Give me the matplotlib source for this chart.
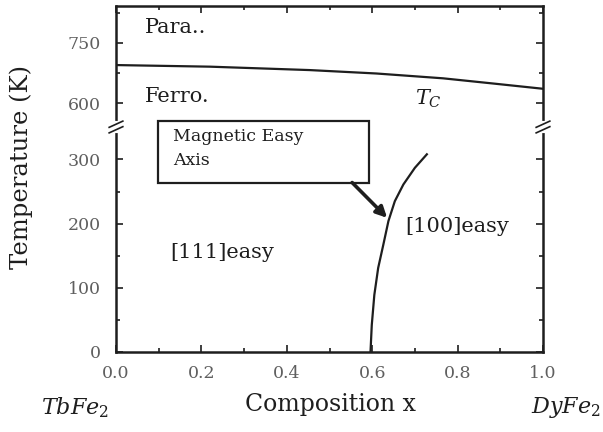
import numpy as np
import matplotlib
matplotlib.use("Agg")
from matplotlib import pyplot as plt
from matplotlib.patches import Rectangle
from matplotlib.ticker import FixedLocator

plt.rcParams["font.family"] = ["DejaVu Serif"]
plt.rcParams["mathtext.fontset"] = "dejavuserif"

# Curie temperature across the Tb(1-x)Dy(x)Fe2 series
tc_x = [0.0, 0.22, 0.454, 0.61, 0.766, 0.884, 1.0]
tc_temp = [695, 691, 682.5, 674, 662, 649, 636]

# spin reorientation boundary between [111] and [100] easy axes
sr_x = [0.596, 0.599, 0.605, 0.614, 0.626, 0.638, 0.653, 0.673, 0.700, 0.728]
sr_temp = [0, 42, 89, 131, 167, 204, 235, 261, 287, 308]

y_major = [0, 100, 200, 300, 600, 750]
y_minor = [50, 150, 250, 675, 825]
x_major = [0.0, 0.2, 0.4, 0.6, 0.8, 1.0]

# broken temperature axis: 0-350 K below the break, 540-842 K above it
seg_t = [0, 350, 540, 842]
seg_y = [0, 224, 224.01, 345]


def fwd(t):
    return np.interp(t, seg_t, seg_y)


def inv(y):
    return np.interp(y, seg_y, seg_t)


ink = "#1e1e1e"
tick_col = "#5f5f5f"

fig = plt.figure(figsize=(6.03, 4.32), dpi=100)
ax = fig.add_axes([116 / 603, 80 / 432, 427 / 603, 346 / 432])
ax.set_yscale("function", functions=(fwd, inv))
ax.set_xlim(0, 1)
ax.set_ylim(0, 842)

ax.plot(tc_x, tc_temp, color=ink, lw=1.6)
ax.plot(sr_x, sr_temp, color=ink, lw=1.6)

ax.yaxis.set_major_locator(FixedLocator(y_major))
ax.yaxis.set_minor_locator(FixedLocator(y_minor))
ax.set_yticklabels([str(v) for v in y_major])
ax.set_xticks(x_major)
ax.set_xticklabels([f"{v:.1f}" for v in x_major])
ax.xaxis.set_minor_locator(FixedLocator(np.arange(0.1, 1.0, 0.2)))

ax.tick_params(which="both", direction="in", top=True, right=True,
               color=ink, width=1.2)
ax.tick_params(which="major", length=5, labelsize=12.5,
               labelcolor=tick_col)
ax.tick_params(axis="x", which="major", pad=9)
ax.tick_params(axis="y", which="major", pad=11)
ax.tick_params(which="minor", length=3)
for s in ax.spines.values():
    s.set_linewidth(1.8)
    s.set_color(ink)

ax.set_xlabel("Composition x", fontsize=17, color=ink)
ax.set_ylabel("Temperature (K)", fontsize=17.5, color=ink)
ax.xaxis.set_label_coords(0.503, -0.118)
ax.yaxis.set_label_coords(-0.195, 0.535)

# break marks on both vertical spines
brk = 225 / 346
for xs in (0, 1):
    ax.plot([xs, xs], [brk - 0.012, brk + 0.012], color="white", lw=3,
            transform=ax.transAxes, clip_on=False, zorder=5)
    for dy in (-0.008, 0.008):
        ax.plot([xs - 0.016, xs + 0.016], [brk + dy - 0.009, brk + dy + 0.009],
                color=ink, lw=1.2, transform=ax.transAxes,
                clip_on=False, zorder=6)

# phase labels
ax.text(0.068, 789, "Para..", fontsize=15, color=ink, va="center")
ax.text(0.068, 617, "Ferro.", fontsize=15, color=ink, va="center")
ax.text(0.70, 612, r"$T_C$", fontsize=15, color=ink, va="center")
ax.text(0.126, 155, "[111]easy", fontsize=15, color=ink, va="center")
ax.text(0.677, 195, "[100]easy", fontsize=15, color=ink, va="center")

# annotation box with arrow onto the boundary
ax.add_patch(Rectangle((0.098, 0.488), 0.495, 0.18, transform=ax.transAxes,
                       fill=False, edgecolor=ink, lw=1.6, clip_on=False))
ax.text(0.133, 0.647, "Magnetic Easy\nAxis", fontsize=12.5, color=ink,
        transform=ax.transAxes, va="top", ha="left", linespacing=1.55)
ax.annotate("", xy=(0.635, 209), xytext=(0.553, 264),
            arrowprops=dict(arrowstyle="-|>", lw=2.6, color=ink,
                            mutation_scale=16, shrinkA=0, shrinkB=0))

# end members of the series
fig.text(75 / 603, 1 - 408 / 432, r"$TbFe_2$", fontsize=16, color=ink,
         ha="center", va="center")
fig.text(566 / 603, 1 - 408 / 432, r"$DyFe_2$", fontsize=16, color=ink,
         ha="center", va="center")

fig.savefig("out.png", dpi=100)
